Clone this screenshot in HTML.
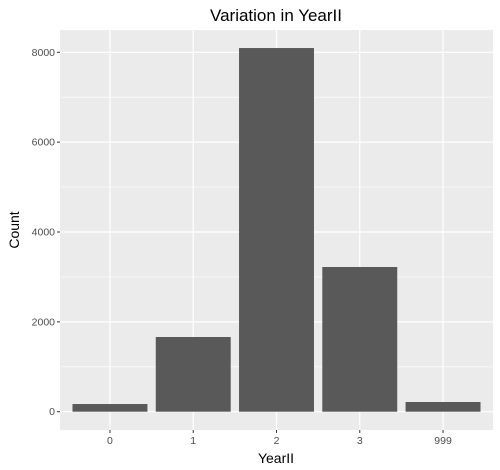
<!DOCTYPE html>
<html><head><meta charset="utf-8"><style>
html,body{margin:0;padding:0;background:#fff;}
svg{display:block;font-family:"Liberation Sans",sans-serif;}
</style></head><body>
<svg id="chart" width="500" height="470">
<text x="276" y="21" text-anchor="middle" font-size="17" fill="#000">Variation in YearII</text>
<rect x="60" y="30" width="433" height="400" fill="#ebebeb"/>
<g id="grid"></g><g id="bars"></g><g id="axes"></g>
<text x="276" y="463" text-anchor="middle" font-size="14" fill="#000">YearII</text>
<text transform="translate(19,230) rotate(-90)" text-anchor="middle" font-size="14" fill="#000">Count</text>
</svg>
<script>
const categories = ["0","1","2","3","999"];
const counts = [171, 1663, 8095, 3221, 216];
const yTicks = [0, 2000, 4000, 6000, 8000];
const NS="http://www.w3.org/2000/svg";
const px0=60, px1=493, y0px=411.7, perUnit=(411.7-52.3)/8000;
const step=(px1-px0)/(categories.length+0.2);
function xScale(i){return px0+step*(0.6+i);}
function yScale(v){return y0px - v*perUnit;}
function mk(tag,attrs,parent){const e=document.createElementNS(NS,tag);for(const k in attrs)e.setAttribute(k,attrs[k]);parent.appendChild(e);return e;}
const grid=document.getElementById('grid'),bars=document.getElementById('bars'),axes=document.getElementById('axes');
for(let i=0;i<yTicks.length-1;i++){
  const y=yScale((yTicks[i]+yTicks[i+1])/2);
  const l=mk('line',{x1:px0,x2:px1,y1:y,y2:y,stroke:'#fff','stroke-width':0.6},grid);
  
  
}
yTicks.forEach(t=>{
  const y=yScale(t);
  const l=mk('line',{x1:px0,x2:px1,y1:y,y2:y,stroke:'#fff','stroke-width':1.2},grid);
  
  
  const tk=mk('line',{x1:px0-3,x2:px0,y1:y,y2:y,stroke:'#333','stroke-width':1},axes);
  
  
  const tx=mk('text',{x:px0-5,y:y+3.5,'text-anchor':'end','font-size':'10.5',fill:'#4d4d4d'},axes);
  tx.textContent=t;
  
  
});
categories.forEach((c,i)=>{
  const x=xScale(i);
  const g=mk('line',{x1:x,x2:x,y1:30,y2:430,stroke:'#fff','stroke-width':1.2},grid);
  
  
  const w=step*0.9, y=yScale(counts[i]);
  const b=mk('rect',{x:x-w/2,y:y,width:w,height:y0px-y,fill:'#595959'},bars);
  
  
  const tk=mk('line',{x1:x,x2:x,y1:430,y2:433,stroke:'#333','stroke-width':1},axes);
  
  
  const tx=mk('text',{x:x,y:444,'text-anchor':'middle','font-size':'10.5',fill:'#4d4d4d'},axes);
  tx.textContent=c;
  
  
});
</script>
</body></html>
